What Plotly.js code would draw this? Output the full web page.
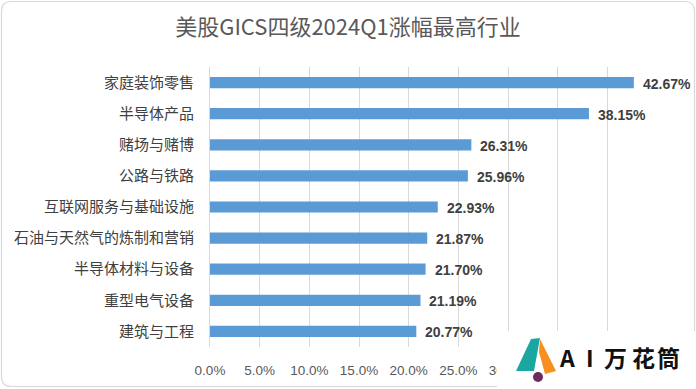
<!DOCTYPE html>
<html>
<head>
<meta charset="utf-8">
<script src="https://cdn.plot.ly/plotly-3.0.1.min.js"></script>
<style>
html,body{margin:0;padding:0;background:#fff;}
#chart{width:696px;height:389px;}
</style>
</head>
<body>
<div id="chart"></div>
<script>
const categories = ["家庭装饰零售","半导体产品","赌场与赌博","公路与铁路","互联网服务与基础设施","石油与天然气的炼制和营销","半导体材料与设备","重型电气设备","建筑与工程"];
const values = [42.67, 38.15, 26.31, 25.96, 22.93, 21.87, 21.70, 21.19, 20.77];
const tickValues = [0, 5, 10, 15, 20, 25, 30, 35, 40, 45];
const tickLabels = ["0.0%", "5.0%", "10.0%", "15.0%", "20.0%", "25.0%", "30.0%", "", "", ""];
const titleText = "美股GICS四级2024Q1涨幅最高行业";
const logoChars = ["A","I","万","花","筒"];

// layout helpers (pixel -> paper)
const L = 210, R = 39, T = 67, B = 42, W = 696, H = 389;
const PW = W - L - R, PH = H - T - B;
const X = px => (px - L) / PW;
const Y = py => (H - B - py) / PH;

const trace = {
  type: "bar",
  orientation: "h",
  y: categories,
  x: values,
  marker: {color: "#5B9BD5"},
  hoverinfo: "none"
};

function roundRect(x0, y0, x1, y1, r) {
  return `M ${X(x0 + r)},${Y(y0)} L ${X(x1 - r)},${Y(y0)} Q ${X(x1)},${Y(y0)} ${X(x1)},${Y(y0 + r)} ` +
         `L ${X(x1)},${Y(y1 - r)} Q ${X(x1)},${Y(y1)} ${X(x1 - r)},${Y(y1)} ` +
         `L ${X(x0 + r)},${Y(y1)} Q ${X(x0)},${Y(y1)} ${X(x0)},${Y(y1 - r)} ` +
         `L ${X(x0)},${Y(y0 + r)} Q ${X(x0)},${Y(y0)} ${X(x0 + r)},${Y(y0)} Z`;
}
function poly(pts) {
  return "M " + pts.map(p => `${X(p[0])},${Y(p[1])}`).join(" L ") + " Z";
}

const shapes = [
  {type: "path", xref: "paper", yref: "paper", layer: "below", path: roundRect(1.5, 1.5, 694.5, 386.5, 10),
   line: {color: "#d9d9d9", width: 1.2}, fillcolor: "rgba(0,0,0,0)"},
  {type: "rect", xref: "paper", yref: "paper", layer: "above", x0: X(497), x1: X(697), y0: Y(331), y1: Y(390),
   line: {width: 0}, fillcolor: "#ffffff"},
  {type: "path", xref: "paper", yref: "paper", layer: "above",
   path: poly([[516,371],[531,339],[540,338],[534,371]]), line: {width: 0}, fillcolor: "#1aa7a2"},
  {type: "path", xref: "paper", yref: "paper", layer: "above",
   path: poly([[540,339],[556,371],[545,374],[539,352]]), line: {width: 0}, fillcolor: "#f7901e"},
  {type: "circle", xref: "paper", yref: "paper", layer: "above",
   x0: X(533), x1: X(543), y0: Y(372), y1: Y(382), line: {width: 0}, fillcolor: "#6b2c5f"}
];

const valueLabels = values.map((v, i) => ({
  text: v.toFixed(2) + "%", x: v, y: categories[i], xref: "x", yref: "y",
  xanchor: "left", yanchor: "middle", xshift: 7, yshift: -1, showarrow: false,
  font: {family: "Liberation Sans, Arial, sans-serif", size: 14, color: "#404040", weight: "bold"}
}));

const logoX = [567, 590, 615, 643, 668];
const logoAnn = logoChars.map((c, i) => ({
  text: c, xref: "paper", yref: "paper", x: X(logoX[i]), y: Y(357), xanchor: "center", yanchor: "middle",
  showarrow: false, font: {family: "Noto Sans CJK SC, sans-serif", size: 23, color: "#111", weight: "bold"}
}));

const layout = {
  width: W, height: H,
  margin: {l: L, r: R, t: T, b: B},
  paper_bgcolor: "#ffffff",
  plot_bgcolor: "#ffffff",
  showlegend: false,
  bargap: 0.64,
  title: {text: titleText, x: 0.5, xref: "container", xanchor: "center", y: 1 - 27 / H, yanchor: "middle",
          font: {family: "Noto Sans CJK SC, sans-serif", size: 22, color: "#595959"}},
  xaxis: {
    range: [0, 45], tickvals: tickValues, ticktext: tickLabels,
    showgrid: true, gridcolor: "#d9d9d9", gridwidth: 1, zeroline: false, showline: false,
    ticks: "", ticklabelstandoff: 13,
    tickfont: {family: "Liberation Sans, Arial, sans-serif", size: 13.5, color: "#595959"},
    fixedrange: true
  },
  yaxis: {
    autorange: "reversed", showgrid: false, zeroline: false,
    showline: true, linecolor: "#d9d9d9", linewidth: 1,
    ticks: "", ticklabelstandoff: 12,
    tickfont: {family: "Noto Sans CJK SC, sans-serif", size: 15, color: "#404040"},
    fixedrange: true
  },
  shapes: shapes,
  annotations: valueLabels.concat(logoAnn)
};

Plotly.newPlot("chart", [trace], layout, {displayModeBar: false, staticPlot: true});
</script>
</body>
</html>
